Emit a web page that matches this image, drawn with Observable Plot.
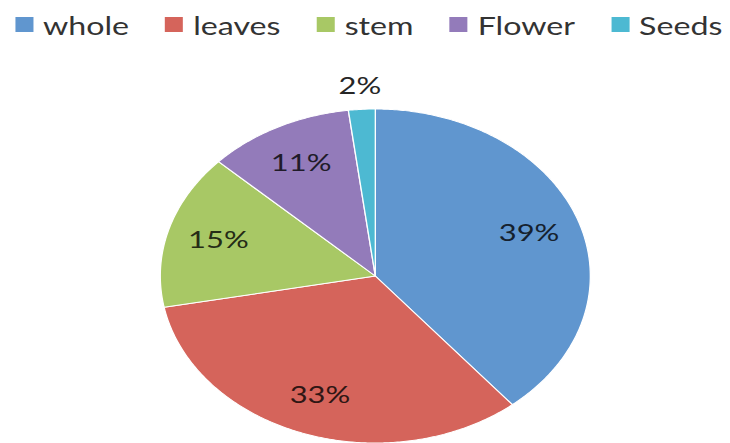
<!DOCTYPE html>
<html>
<head>
<meta charset="utf-8">
<script src="https://cdn.jsdelivr.net/npm/d3@7"></script>
<script src="https://cdn.jsdelivr.net/npm/@observablehq/plot@0.6"></script>
<style>
  html, body { margin: 0; padding: 0; background: #fff; }
  /* the chart is laid out at its native width, then widened to the page */
  #chart { width: 567px; transform: scaleX(1.2875); transform-origin: 0 0; }
  #legend > div {
    height: 45px; min-height: 45px; box-sizing: border-box; padding-top: 4px;
    margin: 0; padding-left: 11.6px; flex-wrap: nowrap;
    font-family: Lato, sans-serif; font-size: 25px; color: #333;
  }
  #legend span { margin-right: 28px; }
  #legend span > svg { margin-right: 7.8px; position: relative; top: 0px; }
  #pie svg { display: block; }
</style>
</head>
<body>
<div id="chart">
  <div id="legend"></div>
  <div id="pie"></div>
</div>
<script>
// Plant parts and their share (%)
const parts  = ["whole", "leaves", "stem", "Flower", "Seeds"];
const shares = [39, 33, 15, 11, 2];
const colors = ["#6096cf", "#d5645b", "#a8c865", "#937bba", "#4db9d2"];

// Layout (native units, before horizontal widening)
const W = 567, H = 398, R = 167, CX = 291, CY = 230.5;

// Slice outlines from the pie layout, clockwise from 12 o'clock
const arcs = d3.pie().sort(null)(shares);
const outline = arcs.flatMap((a, i) => {
  const n = Math.max(2, Math.ceil((a.endAngle - a.startAngle) / 0.01));
  const pts = [{name: parts[i], x: 0, y: 0}];
  for (let k = 0; k <= n; ++k) {
    const t = a.startAngle + (a.endAngle - a.startAngle) * k / n;
    pts.push({name: parts[i], x: R * Math.sin(t), y: R * Math.cos(t)});
  }
  return pts;
});

// Percentage labels: inside the slice, or just outside for thin slices
const labels = arcs.map((a, i) => {
  const mid = (a.startAngle + a.endAngle) / 2;
  const outside = shares[i] < 5;
  const r = R * (outside ? 1.14 : 0.76);
  return {
    x: r * Math.sin(mid),
    y: r * Math.cos(mid),
    text: `${shares[i]}%`,
    ink: outside ? "#262626" : d3.interpolateRgb(colors[i], "#000")(0.78)
  };
});

document.getElementById("legend").append(
  Plot.legend({
    color: {type: "ordinal", domain: parts, range: colors, legend: "swatches"},
    swatchWidth: 14,
    swatchHeight: 15
  })
);

document.getElementById("pie").append(
  Plot.plot({
    width: W,
    height: H,
    margin: 0,
    x: {domain: [-CX, W - CX], axis: null},
    y: {domain: [CY - H, CY], axis: null},
    color: {type: "ordinal", domain: parts, range: colors},
    marks: [
      Plot.line(outline, {
        x: "x", y: "y", z: "name", fill: "name",
        stroke: "white", strokeWidth: 1, curve: "linear-closed"
      }),
      ...labels.map(d => Plot.text([d], {
        x: "x", y: "y", text: "text",
        fill: d.ink, fontSize: 24, fontFamily: "Lato, sans-serif"
      }))
    ]
  })
);
</script>
</body>
</html>
